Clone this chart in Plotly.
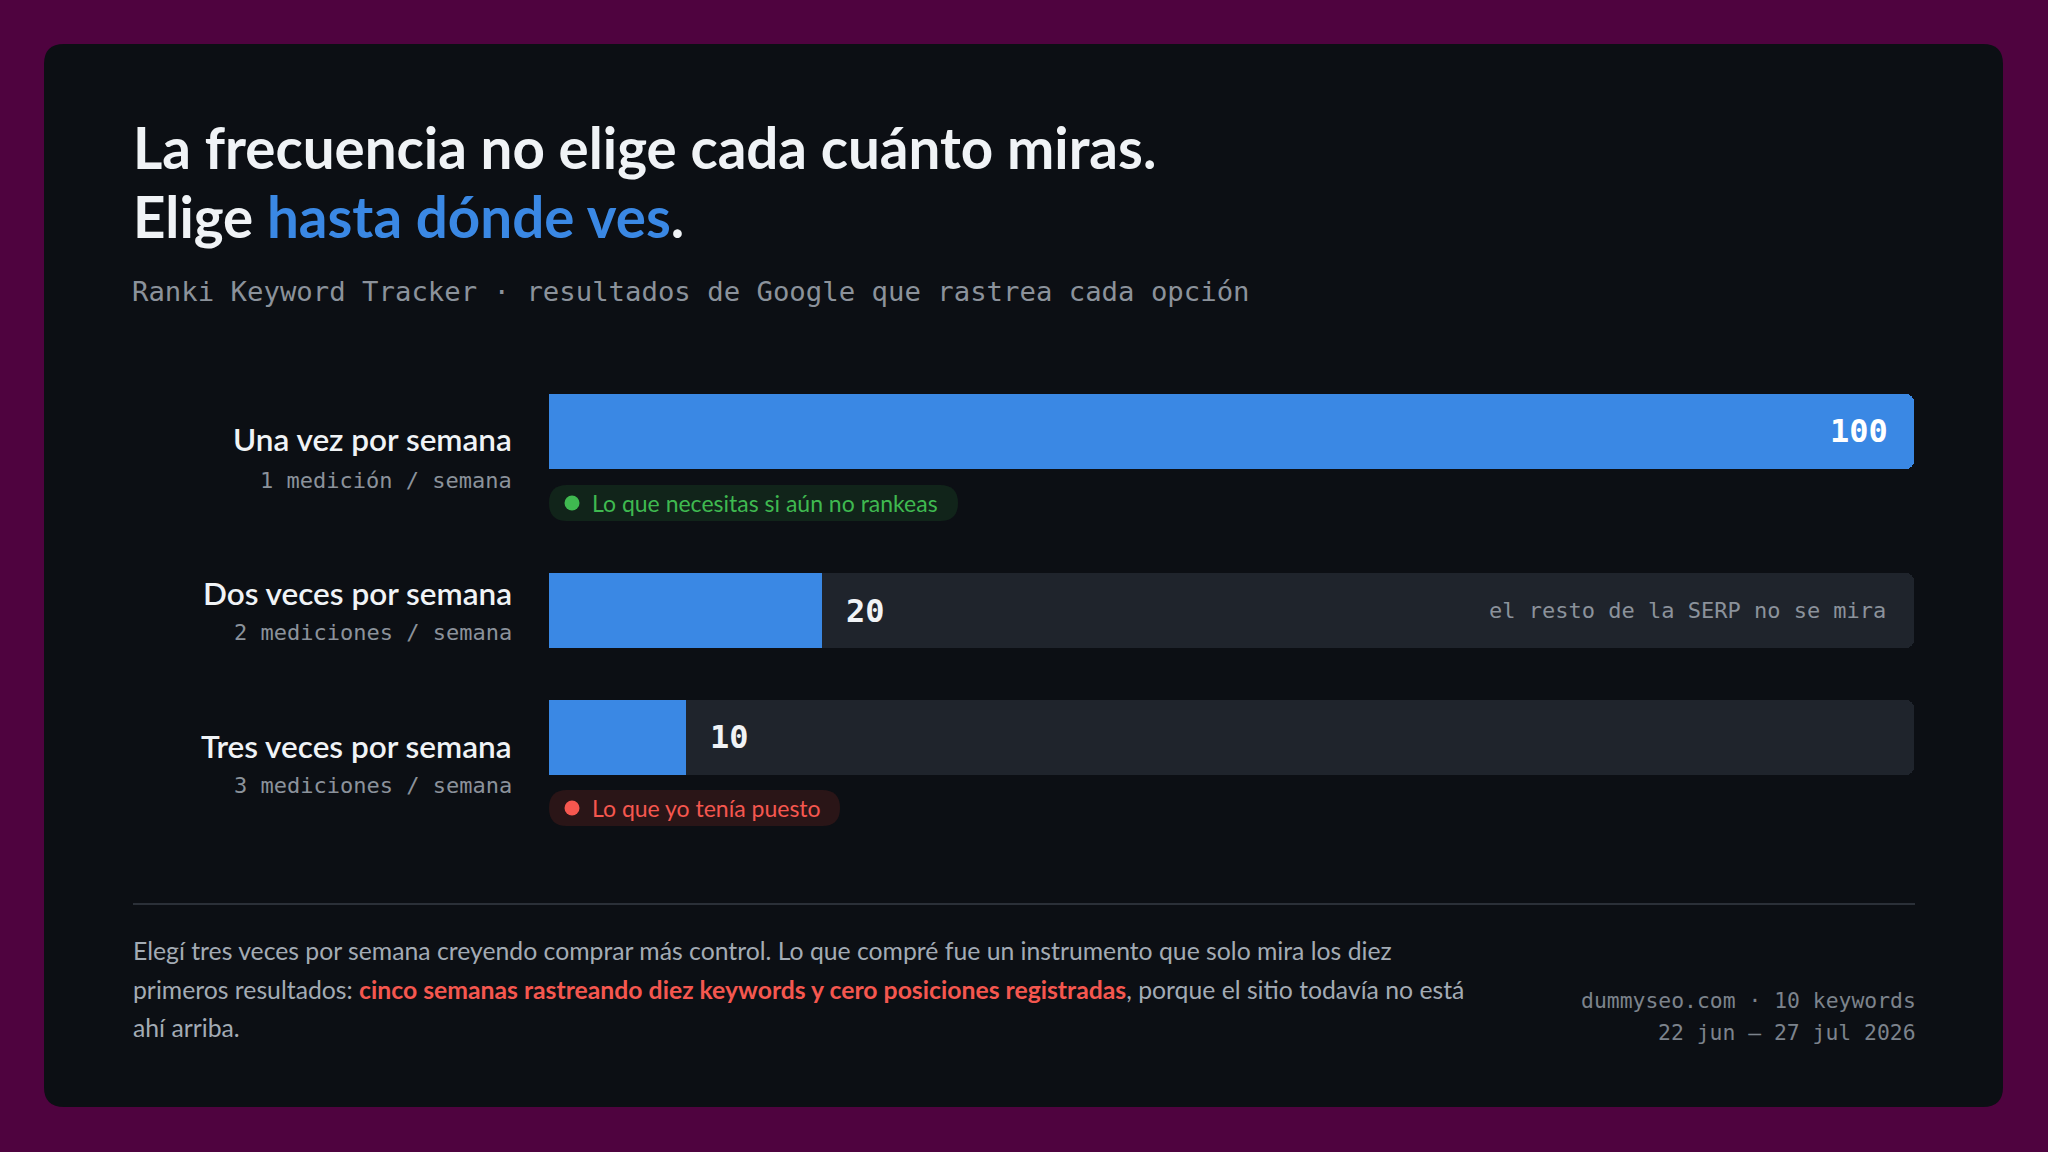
import plotly.graph_objects as go

# ---------------- data ----------------
categories = ["Una vez por semana", "Dos veces por semana", "Tres veces por semana"]
sublabels = ["1 medición / semana", "2 mediciones / semana", "3 mediciones / semana"]
values = [100, 20, 10]
track_max = 100
value_labels = ["100", "20", "10"]
title_line1 = "La frecuencia no elige cada cuánto miras."
title_line2_a = "Elige "
title_line2_b = "hasta dónde ves"
title_line2_c = "."
subtitle = "Ranki Keyword Tracker · resultados de Google que rastrea cada opción"
rest_note = "el resto de la SERP no se mira"
pill_good = "Lo que necesitas si aún no rankeas"
pill_bad = "Lo que yo tenía puesto"
footer_lines = [
    "Elegí tres veces por semana creyendo comprar más control. Lo que compré fue un instrumento que solo mira los diez",
    "primeros resultados: <span style='color:#f5574f'><b>cinco semanas rastreando diez keywords y cero posiciones registradas</b></span>, porque el sitio todavía no está",
    "ahí arriba.",
]
footer_right = ["dummyseo.com · 10 keywords", "22 jun – 27 jul 2026"]

# ---------------- style / layout constants ----------------
W, H = 2048, 1152
BG = "#4f033f"
CARD = "#0c0f14"
BLUE = "#3a88e4"
TRACK = "#1f242c"
WHITE = "#f0f3f6"
GRAY = "#8b929b"
GREEN = "#3fb950"
GREEN_BG = "#11241a"
RED = "#f5574f"
RED_BG = "#2a1517"
SANS = "Lato"
MONO = "DejaVu Sans Mono"

BAR_X0, BAR_X1 = 549, 1914
row_y = [431, 610.5, 737]
BAR_H = 75
label_y = [439, 593, 746]
sub_y = [480, 632, 785]

fig = go.Figure()

# track bars
fig.add_trace(go.Bar(
    y=row_y, x=[track_max] * len(values), orientation="h",
    xaxis="x2", yaxis="y", width=BAR_H, marker=dict(color=TRACK, line=dict(width=0)),
    hoverinfo="skip", showlegend=False,
))
# value bars
fig.add_trace(go.Bar(
    y=row_y, x=values, orientation="h",
    xaxis="x2", yaxis="y", width=BAR_H, marker=dict(color=BLUE, line=dict(width=0)),
    hovertemplate="%{x}<extra></extra>", showlegend=False,
))

shapes = []
annotations = []


def rounded_rect(x0, y0, x1, y1, r, color):
    p = (f"M {x0+r},{y0} L {x1-r},{y0} Q {x1},{y0} {x1},{y0+r} "
         f"L {x1},{y1-r} Q {x1},{y1} {x1-r},{y1} L {x0+r},{y1} "
         f"Q {x0},{y1} {x0},{y1-r} L {x0},{y0+r} Q {x0},{y0} {x0+r},{y0} Z")
    return dict(type="path", path=p, xref="x", yref="y", fillcolor=color,
                line=dict(width=0), layer="below")


# card
shapes.append(rounded_rect(44, 44, 2003, 1107, 20, CARD))

# title
annotations.append(dict(x=131, y=147, xref="x", yref="y", xanchor="left", yanchor="middle",
                        text=f"<b>{title_line1}</b>", showarrow=False,
                        font=dict(family=SANS, size=56.5, color=WHITE)))
annotations.append(dict(x=131, y=216, xref="x", yref="y", xanchor="left", yanchor="middle",
                        text=f"<b>{title_line2_a}<span style='color:{BLUE}'>{title_line2_b}</span>{title_line2_c}</b>",
                        showarrow=False, font=dict(family=SANS, size=56.5, color=WHITE)))
annotations.append(dict(x=130, y=291, xref="x", yref="y", xanchor="left", yanchor="middle",
                        text=subtitle, showarrow=False,
                        font=dict(family=MONO, size=27.3, color=GRAY)))

# row labels
for i, (c, s) in enumerate(zip(categories, sublabels)):
    annotations.append(dict(x=514, y=label_y[i], xref="x", yref="y", xanchor="right", yanchor="middle",
                            text=c, showarrow=False,
                            font=dict(family=SANS, size=31.5, color=WHITE, weight=600)))
    annotations.append(dict(x=514, y=sub_y[i], xref="x", yref="y", xanchor="right", yanchor="middle",
                            text=s, showarrow=False, font=dict(family=MONO, size=22, color=GRAY)))

# value labels
for i, (v, t) in enumerate(zip(values, value_labels)):
    if v >= 90:
        annotations.append(dict(x=v, y=row_y[i], xref="x2", yref="y", xanchor="right", yanchor="middle",
                                xshift=-24, text=f"<b>{t}</b>", showarrow=False,
                                font=dict(family=MONO, size=32, color="#ffffff")))
    else:
        annotations.append(dict(x=v, y=row_y[i], xref="x2", yref="y", xanchor="left", yanchor="middle",
                                xshift=22, text=f"<b>{t}</b>", showarrow=False,
                                font=dict(family=MONO, size=32, color=WHITE)))

annotations.append(dict(x=track_max, y=row_y[1], xref="x2", yref="y", xanchor="right", yanchor="middle",
                        xshift=-26, text=rest_note, showarrow=False,
                        font=dict(family=MONO, size=22, color=GRAY)))

# pills
def pill(x0, y0, x1, y1, bg, fg, text):
    r = (y1 - y0) / 2
    shapes.append(rounded_rect(x0, y0, x1, y1, r, bg))
    cy = (y0 + y1) / 2
    shapes.append(dict(type="circle", xref="x", yref="y", x0=572 - 7.5, x1=572 + 7.5,
                       y0=cy - 7.5, y1=cy + 7.5, fillcolor=fg, line=dict(width=0)))
    annotations.append(dict(x=590, y=cy, xref="x", yref="y", xanchor="left", yanchor="middle",
                            text=text, showarrow=False, font=dict(family=SANS, size=23, color=fg)))


pill(549, 485, 958, 521, GREEN_BG, GREEN, pill_good)
pill(549, 790, 840, 826, RED_BG, RED, pill_bad)

# divider
shapes.append(dict(type="line", xref="x", yref="y", x0=133, x1=1915, y0=904, y1=904,
                   line=dict(color="#2b3038", width=2)))

# footer
for i, (ln, yy) in enumerate(zip(footer_lines, [950, 989, 1027])):
    annotations.append(dict(x=131, y=yy, xref="x", yref="y", xanchor="left", yanchor="middle",
                            text=ln, showarrow=False, font=dict(family=SANS, size=24.75, color="#a3abb4")))
for ln, yy in zip(footer_right, [1000, 1032]):
    annotations.append(dict(x=1918, y=yy, xref="x", yref="y", xanchor="right", yanchor="middle",
                            text=ln, showarrow=False, font=dict(family=MONO, size=21.4, color="#7c838c")))

fig.update_layout(
    width=W, height=H, margin=dict(l=0, r=0, t=0, b=0),
    paper_bgcolor=BG, plot_bgcolor="rgba(0,0,0,0)",
    barmode="overlay", barcornerradius=8, bargap=0,
    xaxis=dict(domain=[0, 1], range=[0, W], visible=False, fixedrange=True),
    xaxis2=dict(domain=[BAR_X0 / W, BAR_X1 / W], range=[0, track_max], visible=False,
                anchor="y", fixedrange=True),
    yaxis=dict(domain=[0, 1], range=[H, 0], visible=False, fixedrange=True),
    shapes=shapes, annotations=annotations,
    showlegend=False, hovermode="closest",
)

fig.write_html("out.html", config={"displayModeBar": False},
               post_script="document.body.style.margin='0';document.body.style.overflow='hidden';")
